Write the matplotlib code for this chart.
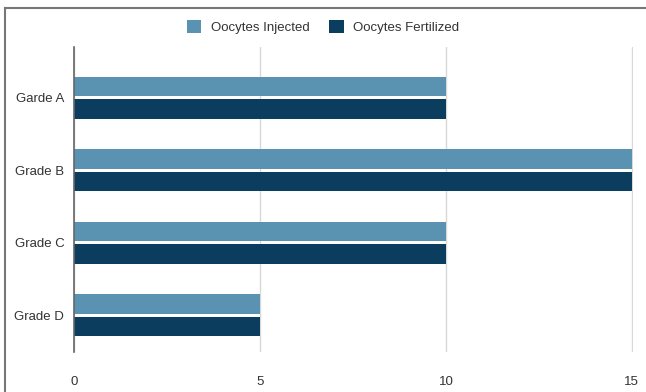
import matplotlib.pyplot as plt
from matplotlib.lines import Line2D
import numpy as np

plt.rcParams['font.family'] = ['Liberation Sans', 'DejaVu Sans']

grades = ['Garde A', 'Grade B', 'Grade C', 'Grade D']
injected = [10, 15, 10, 5]
fertilized = [10, 15, 10, 5]
xticks = [0, 5, 10, 15]

c_inj = '#5a93b1'
c_fert = '#0b3e5e'

fig = plt.figure(figsize=(6.46, 3.92), dpi=100)
ax = fig.add_axes([74/646, 1 - 352/392, (633 - 74)/646, (352 - 47)/392])

y = np.arange(len(grades))
h = 0.27
ax.barh(y - h/2 - 0.02, injected, height=h, color=c_inj, label='Oocytes Injected', zorder=3)
ax.barh(y + h/2 + 0.02, fertilized, height=h, color=c_fert, label='Oocytes Fertilized', zorder=3)

ax.set_ylim(3.51, -0.70)
ax.set_xlim(0, 15.03)
ax.set_yticks(y)
ax.set_yticklabels(grades, fontsize=9.5, color='#333333')
ax.set_xticks(xticks)
ax.set_xticklabels([str(t) for t in xticks], fontsize=9.5, color='#333333')
ax.tick_params(length=0)
ax.tick_params(axis='x', pad=17)
ax.tick_params(axis='y', pad=7)
ax.grid(True, axis='x', color='#d8d8d8', linewidth=1, zorder=0)
for s in ['top', 'right', 'bottom']:
    ax.spines[s].set_visible(False)
ax.spines['left'].set_color('#666666')
ax.spines['left'].set_linewidth(1.2)
ax.spines['left'].set_zorder(4)

fig.legend(loc='center', bbox_to_anchor=(0.5, 1 - 27/392), ncol=2, frameon=False,
           fontsize=9.5, handlelength=1.1, handleheight=1.1, columnspacing=1.5,
           handletextpad=0.7, labelcolor='#333333')

# outer frame (top and left)
fig.add_artist(Line2D([5/646, 1], [1 - 8/392, 1 - 8/392], color='#777777', linewidth=1.5,
                      transform=fig.transFigure))
fig.add_artist(Line2D([5/646, 5/646], [0, 1 - 8/392], color='#777777', linewidth=1.5,
                      transform=fig.transFigure))

fig.savefig('out.png', dpi=100, facecolor='white')
